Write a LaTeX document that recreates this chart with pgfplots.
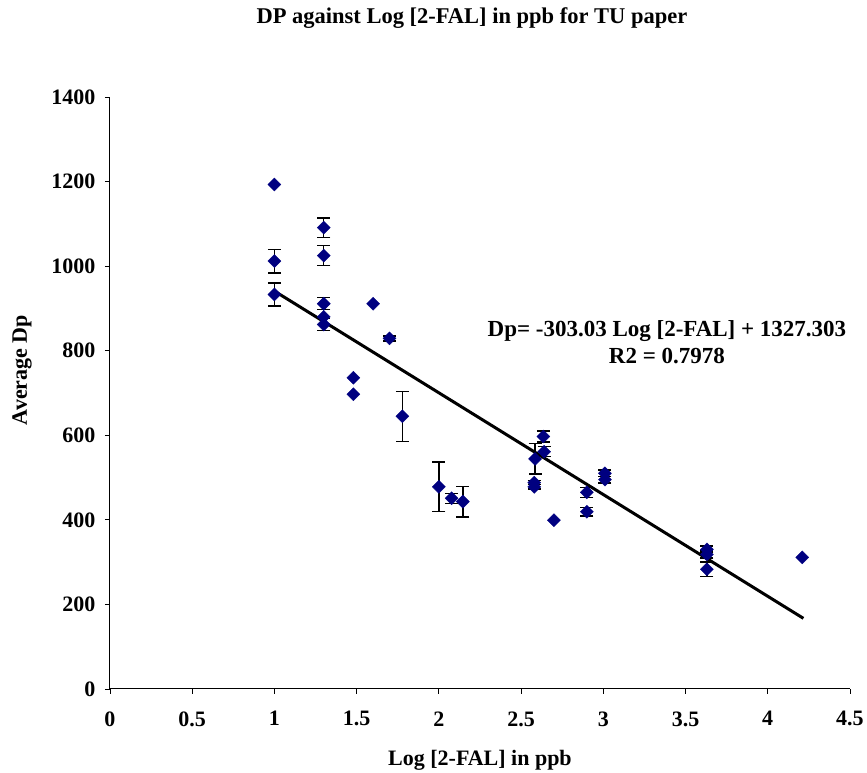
\documentclass[border=0pt]{standalone}
\usepackage{pgfplots}
\pgfplotsset{compat=1.18}
\usepackage{fontspec}
\setmainfont{Liberation Serif}
\definecolor{navy}{RGB}{0,0,128}
\begin{document}
\begin{tikzpicture}
\begin{axis}[
  at={(0,0)}, anchor=south west,
  scale only axis, width=740bp, height=592bp,
  xmin=0, xmax=4.5, ymin=0, ymax=1400,
  xtick={0,0.5,...,4.5}, ytick={0,200,...,1400},
  axis x line*=bottom, axis y line*=left,
  tick align=outside, major tick length=5bp,
  tick style={black, line width=0.8bp},
  axis line style={line width=1bp},
  /pgf/number format/assume math mode=true,
  /pgf/number format/1000 sep={},
  ticklabel style={font=\fontsize{22bp}{24bp}\selectfont\bfseries},
  xticklabel style={yshift=-14bp},
  yticklabel style={xshift=-6bp},
  clip=false,
]
\addplot[black, line width=3bp] coordinates {(1,941) (4.217,167)};
\addplot[only marks, mark=square*, mark size=4.6bp,
  mark options={rotate=45, fill=navy, draw=navy},
  error bars/.cd, y dir=both, y explicit,
  error mark options={rotate=90, mark size=6.5bp, line width=1.3bp, black},
  error bar style={line width=1.3bp, black}]
  table[x=x, y=y, y error=e] {
x y e
1 1012 28
1 933 27
1.3 1091 23
1.3 1025 23
1.3 911 14
1.3 862 14
1.7 829 6
1.778 645 59
2.0 478 59
2.078 451 12
2.146 443 36
2.58 488 5
2.58 478 5
2.585 544 36
2.636 597 13
2.64 561 12
2.90 465 12
2.90 419 10
3.01 510 8
3.01 495 8
3.63 330 8
3.63 318 8
3.63 283 17
};
\addplot[only marks, mark=square*, mark size=4.6bp,
  mark options={rotate=45, fill=navy, draw=navy}]
  table {
1 1193
1.3 880
1.48 736
1.48 697
1.6 911
2.70 399
4.21 311
};
\end{axis}
\path[use as bounding box] (-110bp,-84bp) rectangle (757bp,689bp);
\node[font=\fontsize{22.5bp}{24bp}\selectfont\bfseries] at (362bp,671bp) {DP against Log [2-FAL] in ppb for TU paper};
\node[font=\fontsize{22bp}{24bp}\selectfont\bfseries] at (370bp,-71bp) {Log [2-FAL] in ppb};
\node[font=\fontsize{22bp}{24bp}\selectfont\bfseries, rotate=90] at (-88bp,319bp) {Average Dp};
\node[font=\fontsize{23bp}{27bp}\selectfont\bfseries, align=center] at (557bp,347bp) {Dp= -303.03 Log [2-FAL] + 1327.303\\R2 = 0.7978};
\end{tikzpicture}
\end{document}
